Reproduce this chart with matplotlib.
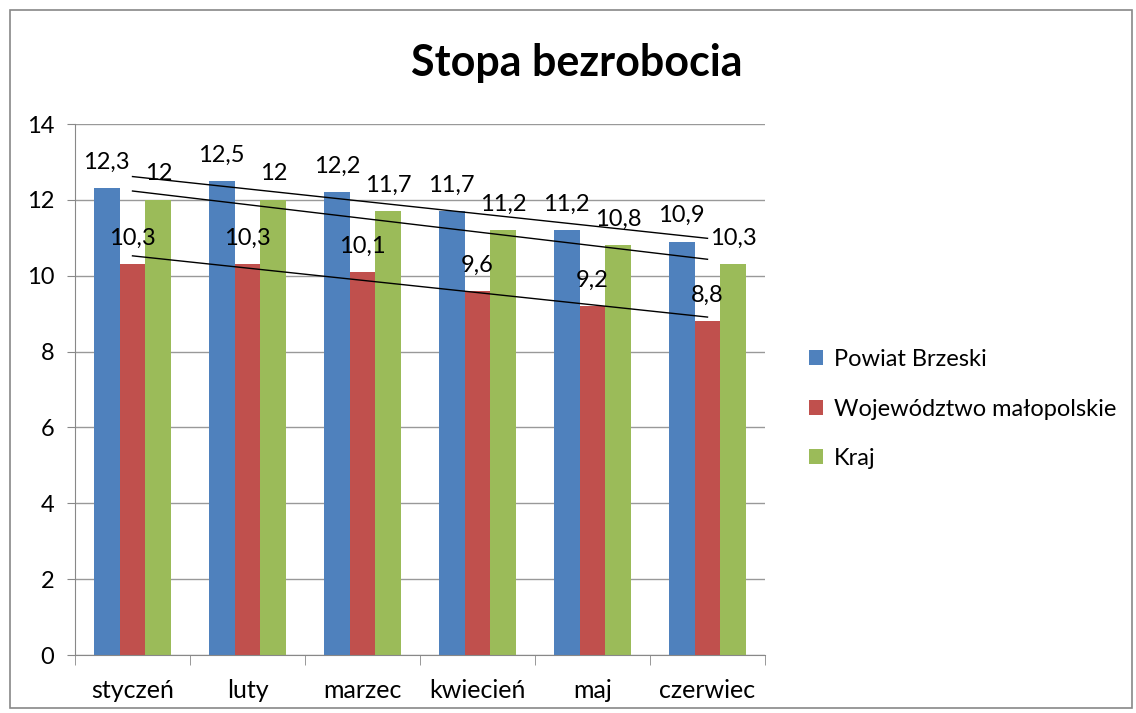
import numpy as np
import matplotlib.pyplot as plt
from matplotlib.patches import Rectangle

# dane z wykresu
months = ["styczeń", "luty", "marzec", "kwiecień", "maj", "czerwiec"]
powiat = [12.3, 12.5, 12.2, 11.7, 11.2, 10.9]
wojew = [10.3, 10.3, 10.1, 9.6, 9.2, 8.8]
kraj = [12, 12, 11.7, 11.2, 10.8, 10.3]
names = ["Powiat Brzeski", "Województwo małopolskie", "Kraj"]
colors = ["#4F81BD", "#C0504D", "#9BBB59"]

plt.rcParams['font.family'] = ['Lato', 'DejaVu Sans']

fig = plt.figure(figsize=(11.36, 7.13), dpi=100)
ax = fig.add_axes([75/1136, 58/713, 690/1136, 531/713])

x = np.arange(len(months))
w = 0.224
series = [powiat, wojew, kraj]
for i, (vals, name, c) in enumerate(zip(series, names, colors)):
    pos = x + (i - 1) * w
    ax.bar(pos, vals, width=w, color=c, label=name, zorder=2)
    for px, v in zip(pos, vals):
        lab = ("%g" % v).replace(".", ",")
        ax.annotate(lab, (px, v), xytext=(0, 26), textcoords="offset pixels",
                    ha="center", va="center", fontsize=17, zorder=4)

# linie trendu
for vals in series:
    a, b = np.polyfit(x, vals, 1)
    ax.plot([x[0], x[-1]], [a*x[0] + b, a*x[-1] + b], color="black", lw=1, zorder=3)

ax.set_xlim(-0.5, 5.5)
ax.set_ylim(0, 14)
ax.set_yticks(range(0, 15, 2))
ax.set_xticks(x)
ax.set_xticklabels(months, fontsize=18)
ax.set_xticks(np.arange(-0.5, 6, 1), minor=True)
ax.tick_params(axis="x", which="major", length=0, pad=17)
ax.tick_params(axis="x", which="minor", length=7, color="#888888", direction="out")
ax.tick_params(axis="y", length=6, color="#888888", labelsize=17, pad=9)
ax.grid(axis="y", color="#999999", lw=1, zorder=0)
for s in ["top", "right"]:
    ax.spines[s].set_visible(False)
for s in ["left", "bottom"]:
    ax.spines[s].set_color("#888888")

fig.text(577/1136, 1 - 63/713, "Stopa bezrobocia", fontsize=31, fontweight="bold",
         ha="center", va="center")

leg = fig.legend(loc="upper left", bbox_to_anchor=(788/1136, 1 - 328/713), frameon=False,
                 fontsize=17, handlelength=0.6, handleheight=0.6, labelspacing=1.2,
                 handletextpad=0.45)

fig.patches.append(Rectangle((10/1136, 5/713), 1122/1136, 698/713, transform=fig.transFigure,
                             fill=False, edgecolor="#888888", lw=1.2))

plt.savefig("out.png")
